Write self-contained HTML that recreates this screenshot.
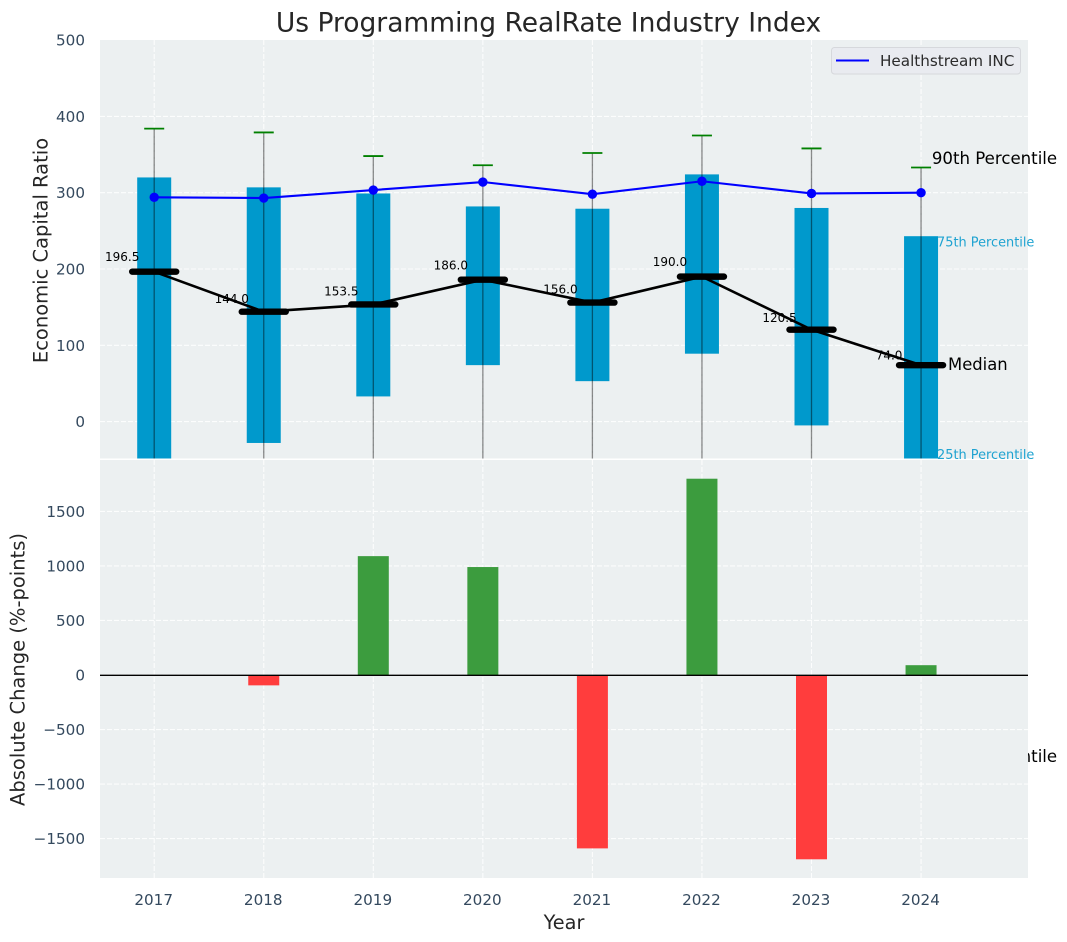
<!DOCTYPE html>
<html lang="en">
<head>
<meta charset="utf-8">
<title>Us Programming RealRate Industry Index</title>
<style>
html,body{margin:0;padding:0;background:#fff;}
svg{display:block;font-family:"DejaVu Sans","Liberation Sans",sans-serif;}
</style>
</head>
<body>
<svg id="chart" xmlns="http://www.w3.org/2000/svg" width="1067" height="942" viewBox="0 0 1067 942">
  <defs>
    <clipPath id="clip-top"><rect x="100" y="40" width="928" height="418.5"/></clipPath>
    <clipPath id="clip-bot"><rect x="100" y="460" width="928" height="418"/></clipPath>
  </defs>
  <text x="548.5" y="31.5" text-anchor="middle" font-size="26.5" fill="#262626">Us Programming RealRate Industry Index</text>
  <rect x="100" y="40" width="928" height="418.5" fill="#ecf0f1"/>
  <g id="top-grid"></g>
  <g id="top-marks" clip-path="url(#clip-top)"></g>
  <g id="top-labels"></g>
  <g id="legend">
    <rect x="831.5" y="47.5" width="189" height="26.5" rx="3" fill="#e9ebf0" stroke="#d6d8dc" stroke-width="1"/>
    <line x1="836" y1="60.5" x2="869" y2="60.5" stroke="#0000ff" stroke-width="2"/>
    <text x="880" y="65.8" font-size="15.2" fill="#2b2b2b">Healthstream INC</text>
  </g>
  <rect x="100" y="460" width="928" height="418" fill="#ecf0f1"/>
  <g id="bot-grid"></g>
  <g id="bot-marks" clip-path="url(#clip-bot)"></g>
  <g id="axis-labels"></g>
  <text transform="translate(47.5,250.5) rotate(-90)" text-anchor="middle" font-size="19.5" fill="#262626">Economic Capital Ratio</text>
  <text transform="translate(24.5,669.5) rotate(-90)" text-anchor="middle" font-size="19.5" fill="#262626">Absolute Change (%-points)</text>
  <text x="564" y="929" text-anchor="middle" font-size="19.3" fill="#262626">Year</text>
</svg>
<script>
const years = [2017, 2018, 2019, 2020, 2021, 2022, 2023, 2024];
const p90 = [384, 379, 348, 336, 352, 375, 358, 333];
const p75 = [320, 307, 299, 282, 279, 324, 280, 243];
const medians = [196.5, 144.0, 153.5, 186.0, 156.0, 190.0, 120.5, 74.0];
const p25 = [-70, -28, 33, 74, 53, 89, -5, -60];
const p10 = [-300, -250, -200, -180, -220, -200, -280, -440];
const company = [294, 293, 303.5, 314, 298, 315, 299, 300];
const changes = [0, -95, 1090, 990, -1590, 1800, -1690, 90];
const topTicks = [0, 100, 200, 300, 400, 500];
const bottomTicks = [-1500, -1000, -500, 0, 500, 1000, 1500];

const SVGNS = 'http://www.w3.org/2000/svg';
function xScale(year) { return 154.2 + (year - 2017) * 109.55; }
function yTop(v) { return 421.6 - v * 0.763; }
function yBot(v) { return 675 - v * 0.10905; }
function make(parent, tag, attrs, text) {
  const el = document.createElementNS(SVGNS, tag);
  for (const k in attrs) el.setAttribute(k, attrs[k]);
  if (text !== undefined) el.textContent = text;
  parent.appendChild(el);
  return el;
}
const topGrid = document.getElementById('top-grid');
const botGrid = document.getElementById('bot-grid');
const topMarks = document.getElementById('top-marks');
const botMarks = document.getElementById('bot-marks');
const topLabels = document.getElementById('top-labels');
const axisLabels = document.getElementById('axis-labels');
const gridStyle = { stroke: '#ffffff', 'stroke-width': 1.1, 'stroke-dasharray': '5,2', 'stroke-opacity': 0.85 };

years.forEach(function (yr) {
  const x = xScale(yr);
  const g1 = make(topGrid, 'line', Object.assign({ x1: x, x2: x, y1: 40, y2: 458.5 }, gridStyle));
  
  
  const g2 = make(botGrid, 'line', Object.assign({ x1: x, x2: x, y1: 460, y2: 878 }, gridStyle));
  
  
  const t = make(axisLabels, 'text', { x: x - 0.5, y: 905, 'text-anchor': 'middle', 'font-size': 15.2, fill: '#34495e' }, String(yr));
  
  
});

topTicks.forEach(function (v) {
  const y = yTop(v);
  if (v < 500) {
    const g = make(topGrid, 'line', Object.assign({ x1: 100, x2: 1028, y1: y, y2: y }, gridStyle));
    
    
  }
  const t = make(axisLabels, 'text', { x: 85, y: y + 5.5, 'text-anchor': 'end', 'font-size': 15.2, fill: '#34495e' }, String(v));
  
  
});

bottomTicks.forEach(function (v) {
  const y = yBot(v);
  const g = make(botGrid, 'line', Object.assign({ x1: 100, x2: 1028, y1: y, y2: y }, gridStyle));
  
  
  const label = (v < 0 ? '\u2212' : '') + Math.abs(v);
  const t = make(axisLabels, 'text', { x: 85, y: y + 5.5, 'text-anchor': 'end', 'font-size': 15.2, fill: '#34495e' }, label);
  
  
});

years.forEach(function (yr, i) {
  const x = xScale(yr);
  const top = yTop(p75[i]);
  const box = make(topMarks, 'rect', { x: x - 17, y: top, width: 34, height: yTop(p25[i]) - top, fill: '#0099cc' });
  
  
});
years.forEach(function (yr, i) {
  const x = xScale(yr);
  const w = make(topMarks, 'line', { x1: x, x2: x, y1: yTop(p90[i]), y2: yTop(p10[i]), stroke: '#000000', 'stroke-opacity': 0.45, 'stroke-width': 1.3 });
  
  
  const c = make(topMarks, 'line', { x1: x - 10, x2: x + 10, y1: yTop(p90[i]), y2: yTop(p90[i]), stroke: '#008000', 'stroke-width': 1.8 });
  
  
});

const medianLine = make(topMarks, 'polyline', { points: years.map(function (yr, i) { return xScale(yr) + ',' + yTop(medians[i]); }).join(' '), fill: 'none', stroke: '#000', 'stroke-width': 2.6 });



years.forEach(function (yr, i) {
  const x = xScale(yr);
  const y = yTop(medians[i]);
  const m = make(topMarks, 'line', { x1: x - 22, x2: x + 22, y1: y, y2: y, stroke: '#000', 'stroke-width': 6.4, 'stroke-linecap': 'round' });
  
  
});

const companyLine = make(topMarks, 'polyline', { points: years.map(function (yr, i) { return xScale(yr) + ',' + yTop(company[i]); }).join(' '), fill: 'none', stroke: '#0000ff', 'stroke-width': 2.1 });



years.forEach(function (yr, i) {
  const p = make(topMarks, 'circle', { cx: xScale(yr), cy: yTop(company[i]), r: 4.7, fill: '#0000ff' });
  
  
  const t = make(topLabels, 'text', { x: xScale(yr) - 32, y: yTop(medians[i] * 1.055 + 9) + 4.3, 'text-anchor': 'middle', 'font-size': 12, fill: '#000' }, medians[i].toFixed(1));
  
  
});

const last = years.length - 1;
const lastX = xScale(years[last]);
const a90 = make(topLabels, 'text', { x: lastX + 10.8, y: yTop(p90[last]) - 3.5, 'font-size': 16.6, fill: '#000' }, '90th Percentile');


const a75 = make(topLabels, 'text', { x: lastX + 16, y: yTop(p75[last]) + 10.5, 'font-size': 12.9, fill: '#1fa3d1' }, '75th Percentile');


const aMed = make(topLabels, 'text', { x: lastX + 27, y: yTop(medians[last]) + 5, 'font-size': 16.4, fill: '#000' }, 'Median');


const a25 = make(topLabels, 'text', { x: lastX + 16, y: yTop(p25[last]) - 8.5, 'font-size': 12.9, fill: '#1fa3d1' }, '25th Percentile');


const a10 = make(topLabels, 'text', { x: lastX + 10.8, y: yTop(p10[last]) + 4.5, 'font-size': 16.6, fill: '#000' }, '10th Percentile');



years.forEach(function (yr, i) {
  const v = changes[i];
  if (v === 0) return;
  const y0 = yBot(0);
  const y1 = yBot(v);
  const b = make(botMarks, 'rect', { x: xScale(yr) - 15.5, y: Math.min(y0, y1), width: 31, height: Math.abs(y1 - y0), fill: v >= 0 ? '#3c9c3e' : '#ff3d3d' });
  
  
});
const zero = make(botMarks, 'line', { x1: 100, x2: 1028, y1: yBot(0) + 0.3, y2: yBot(0) + 0.3, stroke: '#000', 'stroke-width': 1.4 });


</script>
</body>
</html>
